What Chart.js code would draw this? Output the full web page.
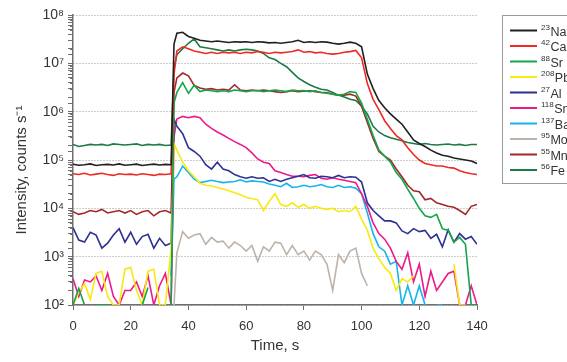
<!DOCTYPE html>
<html>
<head>
<meta charset="utf-8">
<script src="https://cdn.jsdelivr.net/npm/chart.js@4.4.1/dist/chart.umd.min.js"></script>
<style>
html, body { margin: 0; padding: 0; background: #fff; }
#wrap { width: 567px; height: 362px; }
</style>
</head>
<body>
<div id="wrap"><canvas id="chart" width="567" height="362"></canvas></div>
<script>
// Time axis (s): every 2 s, plus one point at the start of ablation
const times = [0, 2, 4, 6, 8, 10, 12, 14, 16, 18, 20, 22, 24, 26, 28, 30, 32, 34, 35,
  36, 38, 40, 42, 44, 46, 48, 50, 52, 54, 56, 58, 60, 62, 64, 66, 68, 70, 72, 74, 76, 78, 80,
  82, 84, 86, 88, 90, 92, 94, 96, 98, 100, 102, 104, 106, 108, 110, 112, 114, 116, 118, 120,
  122, 124, 126, 128, 130, 132, 134, 136, 138, 140];

// Isotope names (legend)
const masses = ['23', '42', '88', '208', '27', '118', '137', '95', '55', '56'];
const symbols = ['Na', 'Ca', 'Sr', 'Pb', 'Al', 'Sn', 'Ba', 'Mo', 'Mn', 'Fe'];
const colors = ['#231f20', '#ee2a24', '#12a64a', '#f7ea10', '#2e3192', '#ec1a8c', '#14b4ec', '#bdb3aa', '#a3282b', '#1d7a45'];

// Intensities, counts/s (null = below detection / not shown)
const na = [8.2e4, 7.8e4, 8e4, 8.3e4, 7.7e4, 8e4, 8.1e4, 7.9e4, 8.3e4, 7.8e4, 8e4, 8.2e4, 7.7e4, 8e4, 8.2e4, 7.9e4, 8.1e4, 8e4,
  2.5e7,
  4.2e7, 4.4e7, 3.6e7, 3.3e7, 3.0e7, 2.9e7, 2.8e7, 2.9e7, 2.8e7, 2.7e7, 2.8e7, 2.75e7, 2.8e7, 2.7e7, 2.8e7, 2.75e7,
  2.65e7, 2.7e7, 2.6e7, 2.7e7, 2.8e7, 3.0e7, 2.7e7, 2.8e7, 2.7e7, 2.8e7, 2.75e7, 2.6e7, 2.5e7, 2.6e7, 2.75e7, 2.6e7,
  2.2e7, 6e6, 3e6, 1.7e6, 1.2e6, 9e5, 7e5, 5.5e5, 3.8e5, 2.6e5, 2.2e5, 1.9e5, 1.6e5, 1.4e5, 1.25e5, 1.2e5, 1.1e5,
  1.05e5, 1.0e5, 9.5e4, 8.5e4];
const ca = [5.2e4, 5e4, 5.3e4, 4.9e4, 5.1e4, 5.3e4, 5e4, 4.8e4, 5.2e4, 5e4, 5.1e4, 4.9e4, 5.2e4, 5e4, 4.8e4, 5.1e4, 5e4, 5.2e4,
  6e6,
  1.8e7, 2.2e7, 2.0e7, 1.8e7, 1.7e7, 1.6e7, 1.7e7, 1.6e7, 1.7e7, 1.65e7, 1.7e7, 1.6e7, 1.7e7, 1.65e7, 1.75e7, 1.7e7,
  1.6e7, 1.7e7, 1.65e7, 1.7e7, 1.75e7, 1.9e7, 1.7e7, 1.75e7, 1.65e7, 1.7e7, 1.6e7, 1.55e7, 1.6e7, 1.7e7, 1.75e7, 1.85e7,
  1.3e7, 3.8e6, 1.8e6, 1.1e6, 6.5e5, 4.5e5, 3.2e5, 2.6e5, 1.8e5, 1.3e5, 1.0e5, 8.5e4, 8e4, 7.5e4, 7.5e4, 7e4, 6.8e4,
  6e4, 5.5e4, 5.2e4, 5e4];
const sr = [100, 220, 100, null, 100, 100, 100, null, null, null, null, null, 100, 230, null, null, null, 100,
  1.5e6,
  2.5e6, 4e6, 2.4e6, 3.5e6, 2.6e6, 2.8e6, 2.7e6, 2.6e6, 2.7e6, 2.6e6, 2.8e6, 2.7e6, 2.6e6, 2.7e6, 2.75e6, 2.6e6,
  2.7e6, 2.8e6, 2.7e6, 2.6e6, 2.8e6, 2.7e6, 2.75e6, 2.6e6, 2.7e6, 2.5e6, 2.4e6, 2.3e6, 2.2e6, 2.3e6, 2.6e6, 2.5e6,
  1.5e6, 7e5, 3.2e5, 1.6e5, 1.2e5, 9e4, 5.5e4, 4e4, 2.5e4, 1.6e4, 1.0e4, 7e3, 6.5e3, 7.5e3, 3.8e3, 3.5e3, 2e3,
  2.5e3, 1.8e3, 100, 100];
const pb = [100, 180, 280, 130, 450, 500, 150, 100, 100, 550, 600, 200, 100, 500, 550, 100, 100, 1500,
  2.2e5,
  1.6e5, 9e4, 6e4, 4.5e4, 3.3e4, 3e4, 2.9e4, 2.7e4, 2.5e4, 2.3e4, 2.1e4, 1.9e4, 1.7e4, 1.6e4, 1.5e4, 9e3,
  1.4e4, 2e4, 1.2e4, 1.1e4, 1.3e4, 1.05e4, 1.2e4, 1.0e4, 1.1e4, 1.0e4, 9.5e3, 1.0e4, 8.5e3, 9e3, 8.5e3, 1.1e4,
  6e3, 3.5e3, 1.5e3, 900, 600, 450, 200, 350, 300, 400, null, null, null, null, null, null, 700,
  100, 100, null, null];
const al = [4000, 2200, 2000, 3200, 2800, 1500, 1900, 2800, 3800, 2000, 3200, 1800, 2600, 2900, 1500, 2400, 1700, 1900,
  7e5,
  5e5, 3.5e5, 1.8e5, 1.5e5, 1.2e5, 8e4, 6.5e4, 9e4, 6.5e4, 6e4, 5e4, 4.5e4, 4.2e4, 4.5e4, 4.2e4, 4.3e4,
  3.6e4, 4e4, 3.6e4, 4e4, 4.3e4, 4.6e4, 5e4, 4.3e4, 4.2e4, 4.6e4, 4.5e4, 4.3e4, 4.8e4, 4.3e4, 4.5e4, 4.4e4,
  3.5e4, 1.3e4, 9e3, 7e3, 5.5e3, 5.5e3, 5e3, 3.4e3, 3.0e3, 3.8e3, 3.3e3, 3.5e3, 2.4e3, 2.9e3, 1.6e3, 3.6e3, 2e3,
  3e3, 2.3e3, 2.6e3, 1.8e3];
const sn = [350, 150, 330, 300, 400, 200, 450, 150, 100, 200, 200, 300, 150, 400, 100, 250, 450, 100,
  3e5,
  7e5, 8e5, 7.5e5, 8e5, 7.5e5, 5.5e5, 4.5e5, 3.8e5, 3.3e5, 2.8e5, 2.4e5, 2.1e5, 1.8e5, 1.4e5, 1.05e5, 9e4,
  8.5e4, 6e4, 5.5e4, 5e4, 4.6e4, 4.6e4, 4.5e4, 4.8e4, 5e4, 4.2e4, 4e4, 4.3e4, 4e4, 3.8e4, 3.6e4, 3.4e4,
  2e4, 1.1e4, 5e3, 3e3, 2.3e3, 1.5e3, 800, 550, 1200, 300, 700, 150, 500, 200, 300, 450, 500,
  100, 100, 250, 100];
const ba = [null, null, null, null, null, null, null, null, null, null, null, null, null, null, null, null, null, 400,
  4e4,
  4.5e4, 7.5e4, 5.5e4, 4e4, 3.4e4, 3.6e4, 3.8e4, 3.6e4, 3.4e4, 3.5e4, 3.6e4, 3.9e4, 3.5e4, 3.7e4, 3.6e4, 3.5e4,
  3.2e4, 3e4, 2.8e4, 3.3e4, 2.7e4, 2.8e4, 3e4, 2.8e4, 2.9e4, 3.1e4, 2.8e4, 2.7e4, 3e4, 2.7e4, 2.8e4, 2.6e4,
  2e4, 8e3, 3e3, 1.6e3, 1.3e3, 700, 800, 100, 250, 100, 250, 100, null, 100, 100, null, null,
  null, null, null, null];
const mo = [null, null, null, null, null, null, null, null, null, null, null, null, null, null, null, null, null, null,
  100,
  1200, 3300, 2400, 2800, 3000, 1800, 2500, 2000, 2100, 1500, 2000, 1700, 1300, 1700, 800, 1600,
  1300, 2000, 1900, 1100, 1700, 1100, 1300, 850, 1300, 1100, 700, 200, 1100, 750, 1300, 1500,
  450, 250, null, null, null, null, null, null, null, null, null, null, null, null, null, null, null,
  null, null, null, null];
const mn = [8.5e3, 7.5e3, 8e3, 9e3, 8.5e3, 9.5e3, 8e3, 8.5e3, 9e3, 8e3, 9e3, 7.5e3, 8.5e3, 9e3, 7e3, 8.5e3, 9e3, 8e3,
  2.5e6,
  5e6, 6.3e6, 5.5e6, 3.5e6, 3.1e6, 2.9e6, 3.0e6, 2.8e6, 2.9e6, 2.8e6, 3.6e6, 2.8e6, 2.7e6, 2.8e6, 2.7e6, 2.8e6,
  2.7e6, 2.6e6, 2.5e6, 2.6e6, 2.7e6, 2.6e6, 2.65e6, 2.7e6, 2.6e6, 2.5e6, 2.5e6, 2.3e6, 2.2e6, 2.2e6, 2.3e6, 2.1e6,
  1.3e6, 6e5, 2.8e5, 1.5e5, 1.2e5, 1.0e5, 6.5e4, 4.5e4, 3e4, 2.3e4, 2.2e4, 1.5e4, 1.6e4, 1.3e4, 1.2e4, 1.1e4, 1.05e4,
  9e3, 7.5e3, 1.1e4, 1.2e4];
const fe = [2.1e5, 1.9e5, 2.0e5, 2.1e5, 2.05e5, 2.1e5, 2.0e5, 2.15e5, 2.1e5, 2.05e5, 2.1e5, 2.15e5, 2.0e5, 2.1e5, 2.05e5, 2.1e5, 2.0e5, 2.05e5,
  8e6,
  1.5e7, 2.0e7, 2.6e7, 3.2e7, 2.2e7, 2.1e7, 2.0e7, 1.9e7, 1.8e7, 1.9e7, 1.8e7, 1.9e7, 1.95e7, 1.9e7, 1.8e7, 1.6e7,
  1.3e7, 1.2e7, 1.0e7, 8.5e6, 6.5e6, 5e6, 4.2e6, 3.6e6, 3.2e6, 2.9e6, 2.8e6, 2.5e6, 2.2e6, 2.0e6, 1.8e6, 1.7e6,
  1.3e6, 9e5, 5e5, 3.8e5, 3.2e5, 2.9e5, 2.7e5, 2.5e5, 2.3e5, 2.2e5, 2.1e5, 2.2e5, 2.1e5, 2.05e5, 2.1e5, 2.15e5, 2.05e5,
  2.1e5, 2.0e5, 2.1e5, 2.1e5];

const series = [na, ca, sr, pb, al, sn, ba, mo, mn, fe];

const supDigits = { '0': '⁰', '1': '¹', '2': '²', '3': '³', '4': '⁴', '5': '⁵', '6': '⁶', '7': '⁷', '8': '⁸', '9': '⁹' };
const toSup = s => s.split('').map(ch => supDigits[ch]).join('');

function decade(v) {
  const e = Math.log10(v);
  const r = Math.round(e);
  return Math.abs(e - r) < 1e-6 ? r : null;
}

const FONT = '"Liberation Sans", Arial, sans-serif';
const AXIS_GREY = '#6e6e6e';

// minor ticks of the log axis + rotated y title
const axisExtras = {
  id: 'axisExtras',
  afterDraw(chart) {
    const c = chart.ctx;
    const y = chart.scales.y;
    c.save();
    c.strokeStyle = AXIS_GREY;
    c.lineWidth = 1;
    c.beginPath();
    for (let e = 2; e < 8; e++) {
      for (let m = 2; m <= 9; m++) {
        const py = Math.round(y.getPixelForValue(m * Math.pow(10, e))) + 0.5;
        c.moveTo(y.right - 3, py);
        c.lineTo(y.right, py);
      }
    }
    c.stroke();

    c.translate(22, 170);
    c.rotate(-Math.PI / 2);
    c.fillStyle = '#333';
    c.font = '15px ' + FONT;
    c.textAlign = 'center';
    c.textBaseline = 'middle';
    c.fillText('Intensity, counts s⁻¹', 0, 0);
    c.restore();
  }
};

// legend with superscript mass numbers, framed box on the right
const isotopeLegend = {
  id: 'isotopeLegend',
  afterDraw(chart) {
    const c = chart.ctx;
    c.save();
    c.strokeStyle = '#9a9a9a';
    c.lineWidth = 1;
    c.strokeRect(502.5, 15.5, 80, 168);
    symbols.forEach((sym, i) => {
      const y = 30.5 + i * 15.5;
      c.strokeStyle = colors[i];
      c.lineWidth = 2;
      c.beginPath();
      c.moveTo(510, y);
      c.lineTo(537, y);
      c.stroke();
      c.fillStyle = '#333';
      c.textBaseline = 'alphabetic';
      c.font = '8px ' + FONT;
      c.fillText(masses[i], 541, y - 1);
      const w = c.measureText(masses[i]).width;
      c.font = '12.5px ' + FONT;
      c.fillText(sym, 541 + w + 0.5, y + 5);
    });
    c.restore();
  }
};

const datasets = series.map((vals, i) => ({
  label: toSup(masses[i]) + symbols[i],
  data: times.map((t, j) => ({ x: t, y: vals[j] })),
  borderColor: colors[i],
  backgroundColor: colors[i],
  borderWidth: 1.6,
  pointRadius: 0,
  tension: 0,
  spanGaps: false
}));

new Chart(document.getElementById('chart'), {
  type: 'line',
  data: { datasets },
  options: {
    responsive: false,
    animation: false,
    events: [],
    layout: { padding: { top: 15, right: 90, left: 0, bottom: 0 } },
    plugins: { legend: { display: false }, tooltip: { enabled: false } },
    scales: {
      x: {
        type: 'linear',
        min: 0,
        max: 140,
        afterFit: s => { s.height = 57; },
        ticks: { stepSize: 20, color: '#333', font: { family: FONT, size: 13 }, padding: 9, maxRotation: 0 },
        grid: { drawOnChartArea: false, tickColor: AXIS_GREY, tickLength: 5 },
        border: { color: AXIS_GREY, width: 1.5 },
        title: { display: true, text: 'Time, s', color: '#333', font: { family: FONT, size: 15 }, padding: { top: 0, bottom: 7 } }
      },
      y: {
        type: 'logarithmic',
        min: 100,
        max: 1e8,
        afterFit: s => { s.width = 73; },
        ticks: {
          autoSkip: false,
          color: '#333',
          font: { family: FONT, size: 14 },
          padding: 4,
          callback: v => {
            const d = decade(v);
            return d === null ? '' : '10' + toSup(String(d));
          }
        },
        grid: {
          color: ctx => (ctx.tick && decade(ctx.tick.value) !== null ? '#9a9a9a' : 'rgba(0,0,0,0)'),
          tickColor: AXIS_GREY,
          tickWidth: 1,
          tickLength: 5
        },
        border: { color: AXIS_GREY, width: 1.5, dash: [1, 2] }
      }
    }
  },
  plugins: [axisExtras, isotopeLegend]
});
</script>
</body>
</html>
